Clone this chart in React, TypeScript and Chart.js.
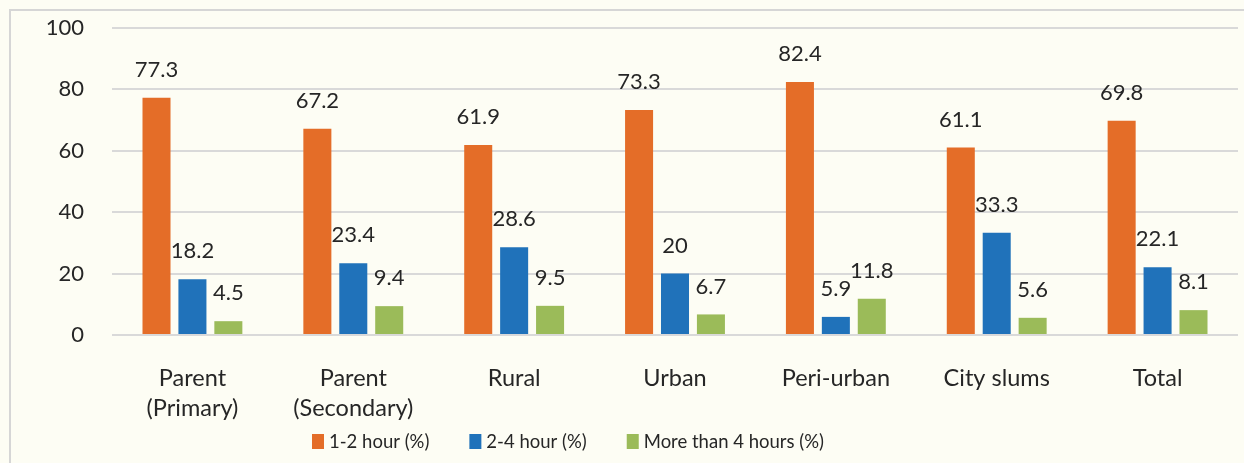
import React, { useEffect, useRef } from "react";
import { Chart, registerables } from "chart.js";

Chart.register(...registerables);

const categories: (string | string[])[] = [
  ["Parent", "(Primary)"],
  ["Parent", "(Secondary)"],
  "Rural",
  "Urban",
  "Peri-urban",
  "City slums",
  "Total",
];
const seriesNames = ["1-2 hour (%)", "2-4 hour (%)", "More than 4 hours (%)"];
const oneToTwo = [77.3, 67.2, 61.9, 73.3, 82.4, 61.1, 69.8];
const twoToFour = [18.2, 23.4, 28.6, 20, 5.9, 33.3, 22.1];
const moreThanFour = [4.5, 9.4, 9.5, 6.7, 11.8, 5.6, 8.1];
const yTicks = [0, 20, 40, 60, 80, 100];

const COLORS = ["#E46D28", "#2072BA", "#9BBB59"];
const FONT = "Lato, 'Open Sans', sans-serif";
const TEXT = "#262626";
const BG = "#FDFDF4";

const labelPlugin = {
  id: "valueLabels",
  afterDatasetsDraw(chart: any) {
    const ctx = chart.ctx;
    ctx.save();
    ctx.font = `22px ${FONT}`;
    ctx.fillStyle = TEXT;
    ctx.textAlign = "center";
    ctx.textBaseline = "middle";
    chart.data.datasets.forEach((ds: any, i: number) => {
      const meta = chart.getDatasetMeta(i);
      meta.data.forEach((bar: any, j: number) => {
        ctx.fillText(String(ds.data[j]), bar.x, bar.y - 28);
      });
    });
    ctx.restore();
  },
};

const legendPlugin = {
  id: "customLegend",
  afterDraw(chart: any) {
    const ctx = chart.ctx;
    ctx.save();
    ctx.font = `18.5px ${FONT}`;
    ctx.textBaseline = "middle";
    ctx.textAlign = "left";
    let x = 312;
    const y = 441;
    chart.data.datasets.forEach((ds: any) => {
      ctx.fillStyle = ds.backgroundColor;
      ctx.fillRect(x, y - 7, 12, 15);
      x += 17;
      ctx.fillStyle = TEXT;
      ctx.fillText(ds.label, x, y + 1);
      x += ctx.measureText(ds.label).width + 40;
    });
    ctx.restore();
  },
};

const framePlugin = {
  id: "frame",
  beforeDraw(chart: any) {
    const ctx = chart.ctx;
    ctx.save();
    ctx.fillStyle = BG;
    ctx.fillRect(0, 0, chart.width, chart.height);
    ctx.strokeStyle = "#D6D6D6";
    ctx.lineWidth = 2;
    ctx.beginPath();
    ctx.moveTo(10, chart.height);
    ctx.lineTo(10, 10);
    ctx.lineTo(chart.width, 10);
    ctx.stroke();
    ctx.restore();
  },
};

export default function App() {
  const ref = useRef<HTMLCanvasElement>(null);
  useEffect(() => {
    if (!ref.current) return;
    const chart = new Chart(ref.current, {
      type: "bar",
      data: {
        labels: categories,
        datasets: [oneToTwo, twoToFour, moreThanFour].map((d, i) => ({
          label: seriesNames[i],
          data: d,
          backgroundColor: COLORS[i],
          borderWidth: 0,
          categoryPercentage: 0.67,
          barPercentage: 0.78,
        })),
      },
      options: {
        animation: false,
        responsive: false,
        maintainAspectRatio: false,
        layout: { padding: { top: 28, right: 6, left: 0, bottom: 39 } },
        scales: {
          x: {
            grid: { display: false, drawTicks: false },
            border: { display: false },
            ticks: {
              color: TEXT,
              font: { family: FONT, size: 23.5, lineHeight: 1.28 },
              padding: 28,
              maxRotation: 0,
              autoSkip: false,
            },
            afterFit(scale: any) {
              scale.height = 89;
            },
          },
          y: {
            min: 0,
            max: 100,
            afterBuildTicks(scale: any) {
              scale.ticks = yTicks.map((v) => ({ value: v }));
            },
            grid: { color: "#D9D9D9", lineWidth: 2, drawTicks: false },
            border: { display: false },
            ticks: {
              color: TEXT,
              font: { family: FONT, size: 22 },
              padding: 28,
            },
            afterFit(scale: any) {
              scale.width = 112;
              scale.paddingTop = 0;
              scale.paddingBottom = 0;
            },
          },
        },
        plugins: {
          legend: { display: false },
          tooltip: { enabled: false },
        },
      },
      plugins: [framePlugin, labelPlugin, legendPlugin],
    } as any);
    return () => chart.destroy();
  }, []);
  return (
    <div style={{ position: "fixed", left: 0, top: 0, width: 1244, height: 463, background: BG }}>
      <canvas ref={ref} width={1244} height={463} style={{ display: "block" }} />
    </div>
  );
}
